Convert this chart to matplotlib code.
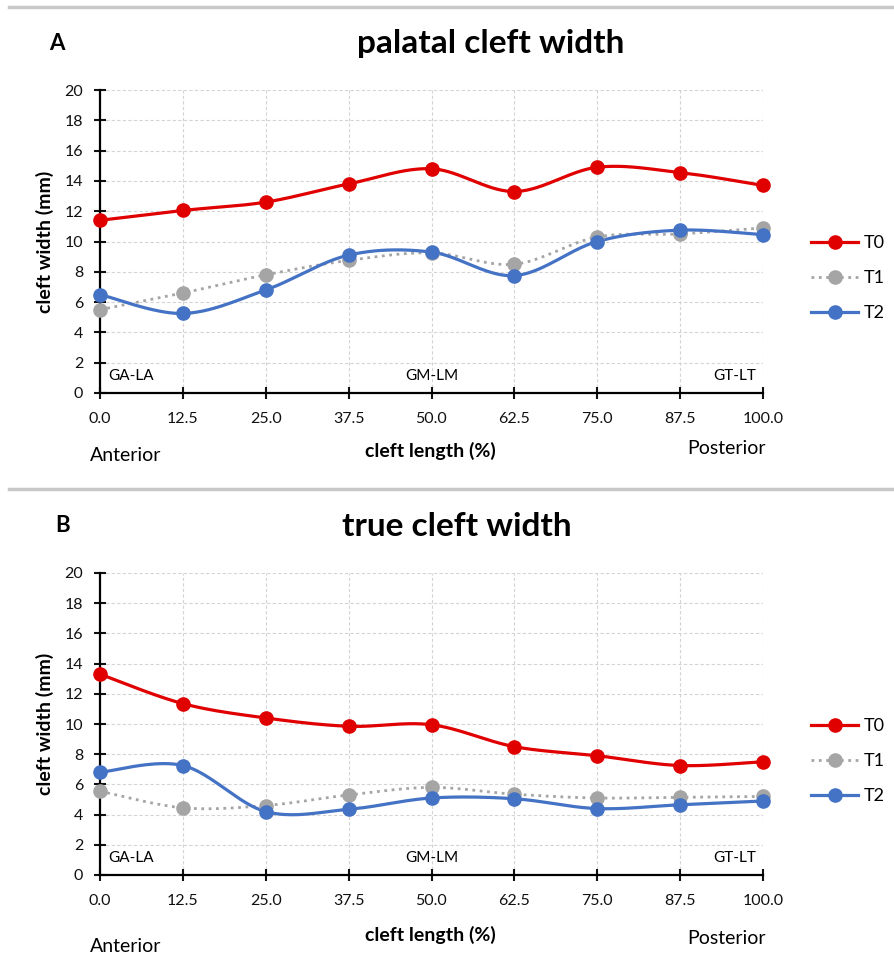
import numpy as np
import matplotlib
matplotlib.use('Agg')
import matplotlib.pyplot as plt
from matplotlib.lines import Line2D

plt.rcParams['font.family'] = ['Lato', 'DejaVu Sans']

# cleft length positions (%)
x_pos = [0, 12.5, 25, 37.5, 50, 62.5, 75, 87.5, 100]
x_labels = ['0.0', '12.5', '25.0', '37.5', '50.0', '62.5', '75.0', '87.5', '100.0']
series_names = ['T0', 'T1', 'T2']

# A: palatal cleft width (mm)
palatal_t0 = [11.4, 12.05, 12.6, 13.8, 14.8, 13.3, 14.9, 14.55, 13.7]
palatal_t1 = [5.5, 6.6, 7.8, 8.75, 9.25, 8.5, 10.3, 10.5, 10.9]
palatal_t2 = [6.5, 5.25, 6.8, 9.1, 9.3, 7.75, 10.0, 10.75, 10.45]

# B: true cleft width (mm)
true_t0 = [13.3, 11.35, 10.4, 9.85, 9.95, 8.5, 7.9, 7.25, 7.5]
true_t1 = [5.55, 4.45, 4.6, 5.3, 5.8, 5.35, 5.1, 5.15, 5.2]
true_t2 = [6.8, 7.25, 4.2, 4.35, 5.1, 5.05, 4.4, 4.65, 4.9]

colors = ['#E00000', '#A5A5A5', '#4472C4']
styles = ['-', ':', '-']


def smooth(xs, ys, n=40):
    # excel-like smoothed line: bezier segments through the points
    pts = np.column_stack([xs, ys]).astype(float)
    p = np.vstack([pts[0], pts, pts[-1]])
    t = np.linspace(0, 1, n)[:, None]
    out = []
    for i in range(len(pts) - 1):
        p0, p1, p2, p3 = p[i], p[i + 1], p[i + 2], p[i + 3]
        c1 = p1 + (p2 - p0) / 6
        c2 = p2 - (p3 - p1) / 6
        seg = (1 - t) ** 3 * p1 + 3 * (1 - t) ** 2 * t * c1 + 3 * (1 - t) * t ** 2 * c2 + t ** 3 * p2
        out.append(seg)
    return np.vstack(out)


fig = plt.figure(figsize=(8.94, 9.56), dpi=100)


def fx(px):
    return px / 894


def fy(px):
    return 1 - px / 956


def panel(top, bottom, letter, title, data, title_xy, letter_xy, leg_y, xl_y, ant_y, post_y):
    ax = fig.add_axes([fx(100), fy(bottom), fx(663), (bottom - top) / 956])
    for ys, c, ls in zip(data, colors, styles):
        cur = smooth(x_pos, ys)
        ax.plot(cur[:, 0], cur[:, 1], color=c, lw=2.3 if ls == '-' else 2.0,
                ls=ls, clip_on=False, zorder=3)
        ax.plot(x_pos, ys, 'o', color=c, ms=9.5, clip_on=False, zorder=4)
    ax.set_xlim(0, 100)
    ax.set_ylim(0, 20)
    ax.set_xticks(x_pos)
    ax.set_xticklabels(x_labels)
    ax.set_yticks(range(0, 21, 2))
    ax.grid(color='#D4D4D4', ls=(0, (3, 2)), lw=0.8)
    ax.set_axisbelow(True)
    for s in ['top', 'right']:
        ax.spines[s].set_visible(False)
    for s in ['left', 'bottom']:
        ax.spines[s].set_linewidth(1.6)
    ax.tick_params(direction='inout', length=8, width=1.5, labelsize=11.5,
                   colors='#111111')
    ax.tick_params(axis='y', pad=8)
    ax.tick_params(axis='x', pad=10)

    ax.text(1.3, 1.1, 'GA-LA', fontsize=11, va='center', ha='left')
    ax.text(50, 1.1, 'GM-LM', fontsize=11, va='center', ha='center')
    ax.text(99, 1.1, 'GT-LT', fontsize=11, va='center', ha='right')

    fig.text(fx(45), fy((top + bottom) / 2), 'cleft width (mm)', fontsize=14,
             fontweight='bold', rotation=90, ha='center', va='center')
    fig.text(fx(430), fy(xl_y), 'cleft length (%)', fontsize=14,
             fontweight='bold', ha='center', va='center')
    fig.text(fx(90), fy(ant_y), 'Anterior', fontsize=14, ha='left', va='center')
    fig.text(fx(766), fy(post_y), 'Posterior', fontsize=14, ha='right', va='center')

    fig.text(fx(title_xy[0]), fy(title_xy[1]), title, fontsize=24, fontweight='bold',
             ha='center', va='center')
    fig.text(fx(letter_xy[0]), fy(letter_xy[1]), letter, fontsize=16,
             fontweight='bold', ha='center', va='center')

    handles = [Line2D([], [], color=c, ls=ls, lw=2.3 if ls == '-' else 2.0,
                      marker='o', ms=9.5) for c, ls in zip(colors, styles)]
    ax.legend(handles, series_names, loc='center left',
              bbox_to_anchor=(fx(795), fy(leg_y)),
              bbox_transform=fig.transFigure, frameon=False, fontsize=13,
              handlelength=2.6, labelspacing=1.05, handletextpad=0.28)
    return ax


panel(90, 393, 'A', 'palatal cleft width', [palatal_t0, palatal_t1, palatal_t2],
      (491, 43), (57, 43), 278, 451, 455, 449)
panel(573, 875, 'B', 'true cleft width', [true_t0, true_t1, true_t2],
      (457, 526), (63, 525), 761, 935, 946, 939)

# separators between the two charts
for yy in [7, 489]:
    fig.add_artist(Line2D([fx(9), 1], [fy(yy)] * 2, color='#C8C8C8', lw=2.5))

fig.savefig('out.png', dpi=100)
